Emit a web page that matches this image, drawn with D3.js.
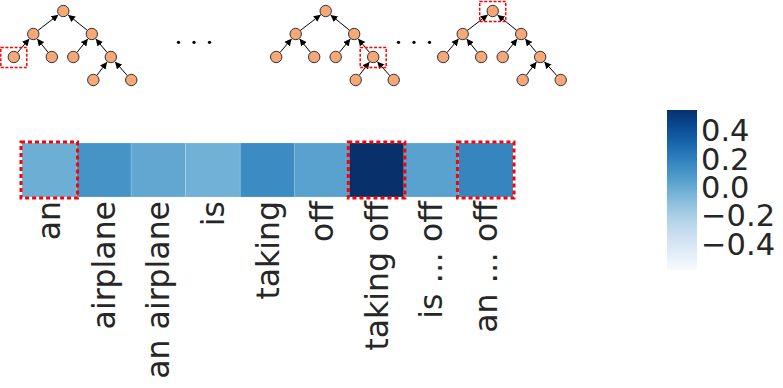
<!DOCTYPE html>
<html>
<head>
<meta charset="utf-8">
<script src="https://cdn.jsdelivr.net/npm/d3@7"></script>
<style>
  body { margin: 0; background: #fff; }
  svg { display: block; font-family: "DejaVu Sans", sans-serif; }
</style>
</head>
<body>
<div id="chart"></div>
<script>
// phrases and their scores
const phrases = ["an", "airplane", "an airplane", "is", "taking", "off", "taking off", "is \u2026 off", "an \u2026 off"];
const scores = [-0.025, 0.11, 0.01, -0.04, 0.145, 0.04, 0.54, 0.04, 0.17];
const highlighted = [0, 6, 8];

// colour bar
const colorDomain = [-0.59, 0.54];
const colorTicks = [0.4, 0.2, 0.0, -0.2, -0.4];

// tree sketch: offset of node from root, depth, parent
const nodeDx = [0, -30, 28.5, -49.5, -11.5, 10, 47.5, 30, 68];
const nodeDepth = [0, 1, 1, 2, 2, 2, 2, 3, 3];
const nodeParent = [-1, 0, 0, 1, 1, 2, 2, 6, 6];
const treeRootX = [63.3, 325.7, 492.7];
const treeMarked = [3, 6, 0];
const dotCenters = [194, 414];

const w = 783, h = 388;

const svg = d3.select("#chart")
    .append("svg")
    .attr("width", w)
    .attr("height", h);

// ---- trees
const depthY = d3.scaleLinear().domain([0, 3]).range([11, 80]);
const nodeR = 5.7;

svg.append("defs").append("marker")
    .attr("id", "arrow")
    .attr("viewBox", "0 0 10 10")
    .attr("refX", 10).attr("refY", 5)
    .attr("markerWidth", 7).attr("markerHeight", 7)
    .attr("markerUnits", "userSpaceOnUse")
    .attr("orient", "auto")
    .append("path")
    .attr("d", "M0,0 L10,5 L0,10 z")
    .attr("fill", "#000");

treeRootX.forEach(function (rx, t) {
    const g = svg.append("g");
    const px = i => rx + nodeDx[i];
    const py = i => depthY(nodeDepth[i]);

    // edges point from child up to parent
    nodeParent.forEach(function (p, i) {
        if (p < 0) return;
        const x1 = px(i), y1 = py(i), x2 = px(p), y2 = py(p);
        const len = Math.hypot(x2 - x1, y2 - y1);
        const ux = (x2 - x1) / len, uy = (y2 - y1) / len;
        g.append("line")
            .attr("x1", x1 + ux * nodeR).attr("y1", y1 + uy * nodeR)
            .attr("x2", x2 - ux * (nodeR + 0.5)).attr("y2", y2 - uy * (nodeR + 0.5))
            .attr("stroke", "#000")
            .attr("stroke-width", 1)
            .attr("marker-end", "url(#arrow)");
    });

    g.selectAll("circle")
        .data(nodeDx)
        .enter()
        .append("circle")
        .attr("cx", (d, i) => px(i))
        .attr("cy", (d, i) => py(i))
        .attr("r", nodeR)
        .attr("fill", "#f7a878")
        .attr("stroke", "#333")
        .attr("stroke-width", 1);

    const m = treeMarked[t];
    g.append("rect")
        .attr("x", px(m) - 13)
        .attr("y", py(m) - 9.5)
        .attr("width", 26)
        .attr("height", 20)
        .attr("fill", "none")
        .attr("stroke", "#ff0000")
        .attr("stroke-width", 1.5)
        .attr("stroke-dasharray", "3,1.6");
});

// the "..." between trees
dotCenters.forEach(function (c) {
    svg.selectAll(null)
        .data([-1, 0, 1])
        .enter()
        .append("circle")
        .attr("cx", d => c + d * 15.5)
        .attr("cy", 42.3)
        .attr("r", 1.6)
        .attr("fill", "#000");
});

// ---- heatmap
const x = d3.scaleBand().domain(phrases).range([22, 513]).padding(0);
const cellTop = 143, cellH = 54;
const color = d3.scaleSequential(d3.interpolateBlues).domain(colorDomain);

svg.selectAll("rect.cell")
    .data(scores)
    .enter()
    .append("rect")
    .attr("class", "cell")
    .attr("x", (d, i) => x(phrases[i]))
    .attr("y", cellTop)
    .attr("width", x.bandwidth())
    .attr("height", cellH)
    .attr("fill", d => color(d))
    .attr("stroke", "rgba(255,255,255,0.25)")
    .attr("stroke-width", 0.6);

svg.selectAll("rect.mark")
    .data(highlighted)
    .enter()
    .append("rect")
    .attr("class", "mark")
    .attr("x", i => x(phrases[i]) - 1)
    .attr("y", cellTop - 1)
    .attr("width", x.bandwidth() + 2)
    .attr("height", cellH + 2)
    .attr("fill", "none")
    .attr("stroke", "#ff0000")
    .attr("stroke-width", 3)
    .attr("stroke-dasharray", "4,3");

// rotated labels under the cells
svg.selectAll("text.lab")
    .data(phrases)
    .enter()
    .append("text")
    .attr("class", "lab")
    .attr("transform", d => "translate(" + (x(d) + x.bandwidth() / 2) + "," + (cellTop + cellH + 4) + ") rotate(-90)")
    .attr("text-anchor", "end")
    .attr("dominant-baseline", "central")
    .attr("font-size", 31.5)
    .attr("fill", "#262626")
    .text(d => d);

// ---- colour bar
const cbX = 667, cbW = 30, cbTop = 110, cbBottom = 270;
const cbY = d3.scaleLinear().domain(colorDomain).range([cbBottom, cbTop]);

const grad = svg.select("defs").append("linearGradient")
    .attr("id", "cbgrad")
    .attr("x1", 0).attr("y1", 1).attr("x2", 0).attr("y2", 0);
grad.selectAll("stop")
    .data(d3.range(0, 1.0001, 0.05))
    .enter()
    .append("stop")
    .attr("offset", d => d)
    .attr("stop-color", d => d3.interpolateBlues(d));

svg.append("rect")
    .attr("x", cbX)
    .attr("y", cbTop)
    .attr("width", cbW)
    .attr("height", cbBottom - cbTop)
    .attr("fill", "url(#cbgrad)");

svg.selectAll("text.tick")
    .data(colorTicks)
    .enter()
    .append("text")
    .attr("class", "tick")
    .attr("x", cbX + cbW + 4)
    .attr("y", d => cbY(d) + 1)
    .attr("dominant-baseline", "central")
    .attr("font-size", 30.5)
    .attr("fill", "#262626")
    .text(d => d3.format(".1f")(d).replace("-", "\u2212"));
</script>
</body>
</html>
